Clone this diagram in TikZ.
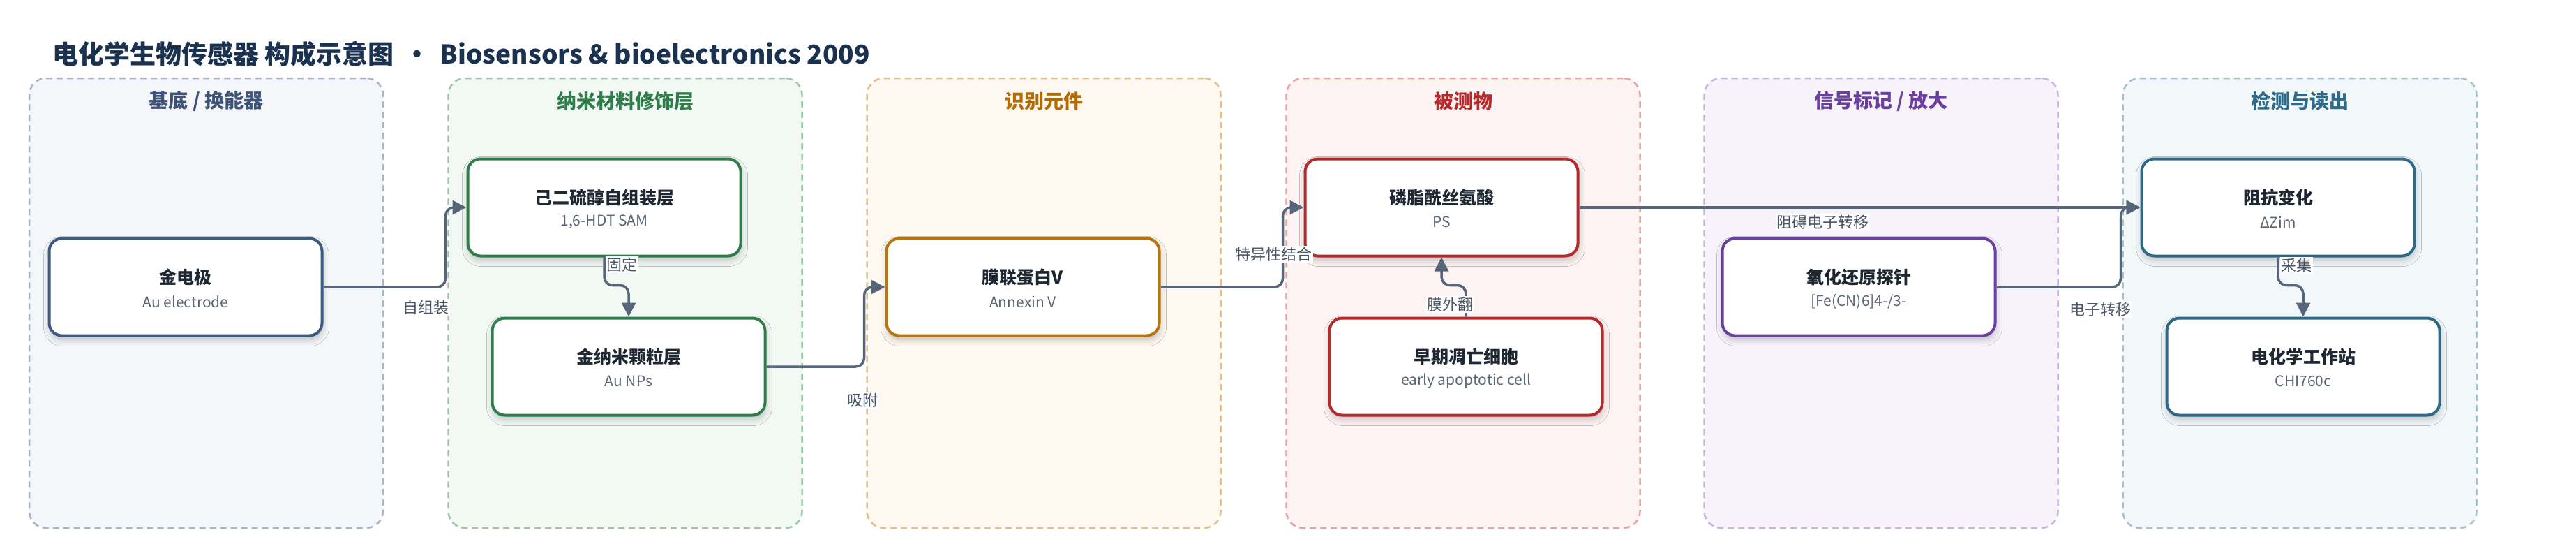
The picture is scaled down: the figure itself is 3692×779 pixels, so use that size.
\documentclass[tikz,border=0pt]{standalone}
\usepackage{fontspec}
\setmainfont{Noto Sans CJK SC}
\usetikzlibrary{arrows.meta,shadows.blur,calc}
\definecolor{titlec}{HTML}{1B3150}
\definecolor{ink}{HTML}{1F2733}
\definecolor{subc}{HTML}{5B6573}
\definecolor{labc}{HTML}{4A5566}
\definecolor{edgec}{HTML}{56657A}
\definecolor{p1f}{HTML}{F4F6FA}\definecolor{p1b}{HTML}{A8B4C8}\definecolor{p1t}{HTML}{3D5378}\definecolor{n1}{HTML}{3D5A80}
\definecolor{p2f}{HTML}{F2F8F4}\definecolor{p2b}{HTML}{9BC6A8}\definecolor{p2t}{HTML}{2E7D4A}\definecolor{n2}{HTML}{2E7D4A}
\definecolor{p3f}{HTML}{FDF8F0}\definecolor{p3b}{HTML}{E2C08A}\definecolor{p3t}{HTML}{B36B00}\definecolor{n3}{HTML}{B8740E}
\definecolor{p4f}{HTML}{FDF3F3}\definecolor{p4b}{HTML}{E8A4A4}\definecolor{p4t}{HTML}{B52A2A}\definecolor{n4}{HTML}{B52A2A}
\definecolor{p5f}{HTML}{F7F3FB}\definecolor{p5b}{HTML}{C9B3E0}\definecolor{p5t}{HTML}{6B3FA0}\definecolor{n5}{HTML}{6B3FA0}
\definecolor{p6f}{HTML}{F2F7F9}\definecolor{p6b}{HTML}{A3C3CC}\definecolor{p6t}{HTML}{2E6A88}\definecolor{n6}{HTML}{2E6A88}
\newcommand\bionode[6]{%
  \node[box, draw=#4] (#1) at (#2,#3) {};
  \node[ttl] (#1-t) at ([yshift=14pt]#1.center) {#5};
  \node[sub] (#1-s) at ([yshift=-21pt]#1.center) {#6};
}
\begin{document}
\begin{tikzpicture}[x=1pt,y=-1pt,
  panel/.style={draw, rounded corners=24pt, line width=2.5pt, dash pattern=on 9pt off 6pt,
    minimum width=507pt, minimum height=644pt, inner sep=0pt},
  ptitle/.style={font=\fontsize{28}{31}\selectfont\bfseries, inner sep=0pt},
  box/.style={line width=4pt, rounded corners=18pt, fill=white, minimum width=391pt,
    minimum height=139pt, inner sep=0pt,
    blur shadow={shadow xshift=1pt, shadow yshift=-6pt, shadow blur radius=9pt, shadow opacity=22}},
  ttl/.style={font=\fontsize{25}{29}\selectfont\bfseries, text=ink, inner sep=0pt},
  sub/.style={font=\fontsize{21}{25}\selectfont, text=subc, inner sep=0pt},
  edge/.style={draw=edgec, line width=3.5pt, rounded corners=12pt, -{Triangle[length=20pt,width=20pt]}},
  elabel/.style={fill=white, font=\fontsize{22}{25}\selectfont, text=labc, inner sep=1.5pt}
]
\useasboundingbox (0,0) rectangle (3692,779);
\fill[white] (0,0) rectangle (3692,779);

\node[anchor=west, inner sep=0pt, font=\fontsize{37}{41}\selectfont\bfseries, text=titlec] (title) at (75,77)
  {电化学生物传感器 构成示意图 \,•\, Biosensors \& bioelectronics 2009};

% panels
\node[panel, draw=p1b, fill=p1f] (P1) at (295.5,434) {};
\node[panel, draw=p2b, fill=p2f] (P2) at (896,434) {};
\node[panel, draw=p3b, fill=p3f] (P3) at (1496,434) {};
\node[panel, draw=p4b, fill=p4f] (P4) at (2097,434) {};
\node[panel, draw=p5b, fill=p5f] (P5) at (2696,434) {};
\node[panel, draw=p6b, fill=p6f] (P6) at (3296,434) {};
\node[ptitle, text=p1t] (P1t) at (295.5,145) {基底 / 换能器};
\node[ptitle, text=p2t] (P2t) at (896,145) {纳米材料修饰层};
\node[ptitle, text=p3t] (P3t) at (1496,145) {识别元件};
\node[ptitle, text=p4t] (P4t) at (2097,145) {被测物};
\node[ptitle, text=p5t] (P5t) at (2696,145) {信号标记 / 放大};
\node[ptitle, text=p6t] (P6t) at (3296,145) {检测与读出};

% nodes
\bionode{au}{266}{411}{n1}{金电极}{Au electrode}
\bionode{sam}{866}{297}{n2}{己二硫醇自组装层}{1,6-HDT SAM}
\bionode{np}{901}{525}{n2}{金纳米颗粒层}{Au NPs}
\bionode{anx}{1466}{411}{n3}{膜联蛋白V}{Annexin V}
\bionode{ps}{2066}{297}{n4}{磷脂酰丝氨酸}{PS}
\bionode{apo}{2101}{525}{n4}{早期凋亡细胞}{early apoptotic cell}
\bionode{probe}{2664}{411}{n5}{氧化还原探针}{[Fe(CN)6]4-/3-}
\bionode{zim}{3265}{297}{n6}{阻抗变化}{ΔZim}
\bionode{chi}{3301}{525}{n6}{电化学工作站}{CHI760c}

% edges
\draw[edge] (au.east) -| ([xshift=-30pt]sam.west) -- (sam.west);
\draw[edge] (sam.south) |- ([yshift=45pt]np.north) -- (np.north);
\draw[edge] (np.east) -| ([xshift=-30pt]anx.west) -- (anx.west);
\draw[edge] (anx.east) -| ([xshift=-30pt]ps.west) -- (ps.west);
\draw[edge] (apo.north) -- ([yshift=45pt]apo.north) -| (ps.south);
\draw[edge] (ps.east) -- (zim.west);
\draw[edge] (probe.east) -| ([xshift=-28pt]zim.west) -- (zim.west);
\draw[edge] (zim.south) |- ([yshift=45pt]chi.north) -- (chi.north);

% edge labels
\node[elabel] (l1) at (610,440) {自组装};
\node[elabel] (l2) at (891,379) {固定};
\node[elabel] (l3) at (1236,573) {吸附};
\node[elabel] (l4) at (1825,364) {特异性结合};
\node[elabel] (l5) at (2078,436) {膜外翻};
\node[elabel] (l6) at (2612,318) {阻碍电子转移};
\node[elabel] (l7) at (3010,443) {电子转移};
\node[elabel] (l8) at (3291,380) {采集};
\end{tikzpicture}
\end{document}
